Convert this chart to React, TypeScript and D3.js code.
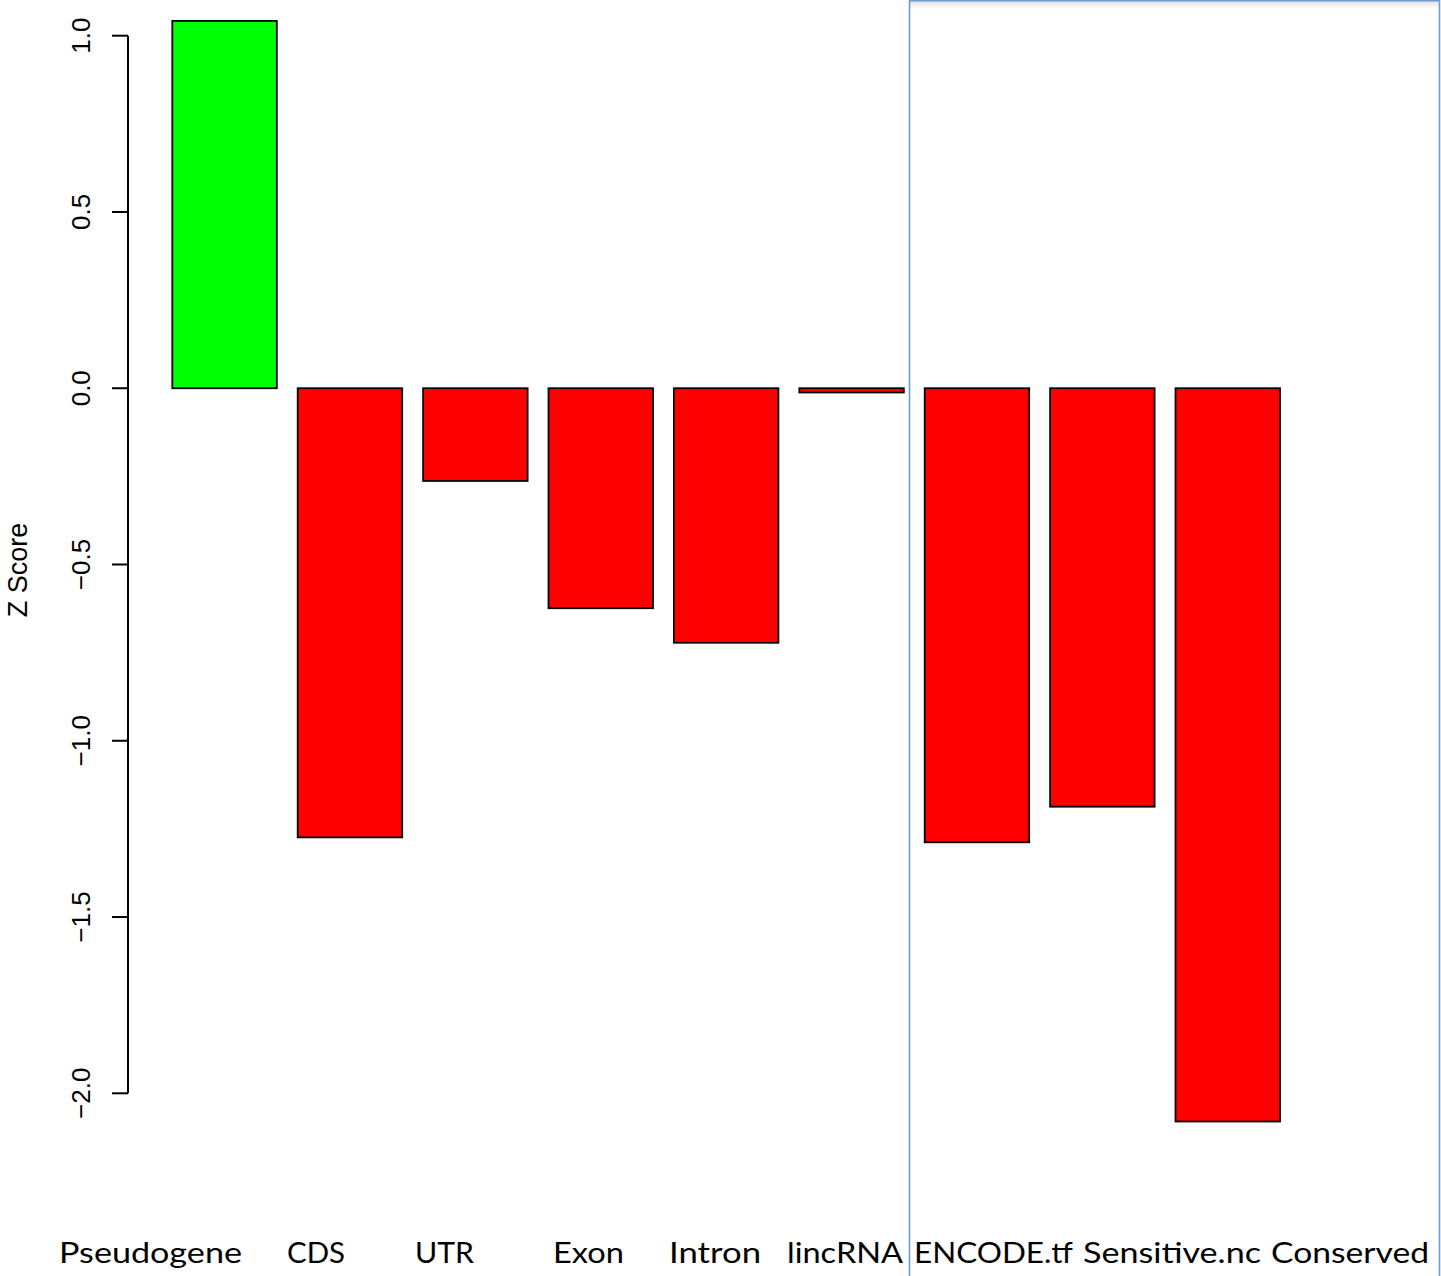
import React from "react";
import * as d3 from "d3";

const categories = ["Pseudogene", "CDS", "UTR", "Exon", "Intron", "lincRNA", "ENCODE.tf", "Sensitive.nc", "Conserved"];
const zScores = [1.042, -1.274, -0.263, -0.624, -0.722, -0.012, -1.288, -1.187, -2.080];
const yTicks = [-2.0, -1.5, -1.0, -0.5, 0.0, 0.5, 1.0];
const labelStarts = [59, 287, 415, 553, 669, 787, 914, 1083, 1271];
const labelEnds = [242, 345, 474, 624, 761, 903, 1073, 1261, 1429];

const W = 1441;
const H = 1276;

export default function App() {
  const x = d3
    .scaleBand<string>()
    .domain(categories)
    .range([161.85, 161.85 + 9 * 125.4])
    .paddingInner(1 / 6)
    .paddingOuter(1 / 12);
  const y = d3.scaleLinear().domain([-2, 1]).range([1093.3, 35.7]);
  const fmt = (v: number) => v.toFixed(1).replace("-", "\u2212");

  return (
    <div>
      <style>{"body{margin:0;background:#fff}"}</style>
      <svg width={W} height={H} style={{ display: "block" }} viewBox={`0 0 ${W} ${H}`}>
        <rect x={0} y={0} width={W} height={H} fill="#fff" />
        {/* selection box */}
        <defs>
          <linearGradient id="sh" x1="0" y1="0" x2="0" y2="1">
            <stop offset="0" stopColor="#000" stopOpacity="0.12" />
            <stop offset="1" stopColor="#000" stopOpacity="0" />
          </linearGradient>
        </defs>
        <rect x={910} y={1} width={530} height={8} fill="url(#sh)" />
        <path d="M909.5,1300 V0.8 H1439.5 V1300" fill="none" stroke="#6c9bd5" strokeWidth={1.6} />

        {/* bars */}
        {categories.map((c, i) => {
          const v = zScores[i];
          const y0 = y(0);
          const y1 = y(v);
          return (
            <rect
              key={c}
              x={x(c)}
              y={Math.min(y0, y1)}
              width={x.bandwidth()}
              height={Math.abs(y1 - y0)}
              fill={v >= 0 ? "#00ff00" : "#ff0000"}
              stroke="#000"
              strokeWidth={1.8}
            />
          );
        })}

        {/* y axis */}
        <line x1={128} x2={128} y1={y(1)} y2={y(-2)} stroke="#000" strokeWidth={2} />
        {yTicks.map((t) => (
          <g key={t}>
            <line x1={112} x2={128} y1={y(t)} y2={y(t)} stroke="#000" strokeWidth={2} />
            <text
              transform={`translate(90,${y(t)}) rotate(-90)`}
              textAnchor="middle"
              fontFamily="'Liberation Sans', Arial, sans-serif"
              fontSize={26}
              fill="#000"
            >
              {fmt(t)}
            </text>
          </g>
        ))}
        <text
          transform={`translate(27,570) rotate(-90)`}
          textAnchor="middle"
          fontFamily="'Liberation Sans', Arial, sans-serif"
          fontSize={27}
          fill="#000"
        >
          Z Score
        </text>

        {/* category labels */}
        {categories.map((c, i) => (
          <text
            key={c}
            x={labelStarts[i]}
            y={1263}
            fontFamily="Lato, 'Open Sans', sans-serif"
            fontSize={28}
            textLength={labelEnds[i] - labelStarts[i]}
            lengthAdjust="spacingAndGlyphs"
            fill="#000"
          >
            {c}
          </text>
        ))}
      </svg>
    </div>
  );
}
